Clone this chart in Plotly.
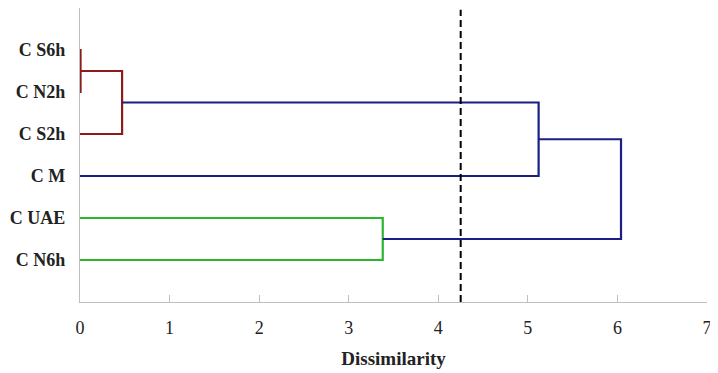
import plotly.graph_objects as go

# Leaves (top to bottom)
labels = ["C S6h", "C N2h", "C S2h", "C M", "C UAE", "C N6h"]
# Merges: (child_a, child_b, height, colour_key); leaves are 0..5, new clusters 6..
merge_a = [0, 6, 7, 4, 8]
merge_b = [1, 2, 3, 5, 9]
merge_h = [0.006, 0.47, 5.12, 3.38, 6.04]
merge_c = ["red", "red", "blue", "green", "blue"]
cut_level = 4.25
x_ticks = [0, 1, 2, 3, 4, 5, 6, 7]

colors = {"red": "#8E1B1B", "blue": "#1A1F85", "green": "#2DB52D"}

n = len(labels)
node_y = {i: float(n - i) for i in range(n)}
node_h = {i: 0.0 for i in range(n)}

fig = go.Figure()
for k, (a, b, h, c) in enumerate(zip(merge_a, merge_b, merge_h, merge_c)):
    xs = [node_h[a], h, h, node_h[b]]
    ys = [node_y[a], node_y[a], node_y[b], node_y[b]]
    fig.add_trace(go.Scatter(x=xs, y=ys, mode="lines",
                             line=dict(color=colors[c], width=2.2),
                             hoverinfo="skip", showlegend=False))
    new = n + k
    node_y[new] = (node_y[a] + node_y[b]) / 2
    node_h[new] = h

fig.add_trace(go.Scatter(x=[cut_level, cut_level], y=[0, 6.96], mode="lines",
                         line=dict(color="black", width=2, dash="7px,4px"),
                         hoverinfo="skip", showlegend=False))

serif = "Liberation Serif"
# The page body has an 8px margin, so the figure is sized/offset to compensate.
fig.update_layout(
    width=710, height=365,
    margin=dict(l=72, r=11, t=0, b=71),
    plot_bgcolor="white", paper_bgcolor="white",
    xaxis=dict(range=[0, 7], tickvals=x_ticks, ticks="inside", ticklen=7,
               tickcolor="#BFBFBF", showline=True, linecolor="#BFBFBF", linewidth=1.2,
               showgrid=False, zeroline=False, automargin=False,
               ticklabeloverflow="allow", ticklabelstandoff=9,
               tickfont=dict(family=serif, size=18, color="#222222"),
               title=dict(text="<b>Dissimilarity</b>", standoff=14,
                          font=dict(family=serif, size=19, color="#222222"))),
    yaxis=dict(range=[0, 7], tickvals=[n - i for i in range(n)], ticktext=labels,
               ticks="", showline=True, linecolor="#BFBFBF", linewidth=1.2,
               showgrid=False, zeroline=False, ticklabelstandoff=10, automargin=False,
               ticklabeloverflow="allow",
               tickfont=dict(family=serif, size=18, color="#222222", weight="bold")),
)

fig.write_html("out.html")
